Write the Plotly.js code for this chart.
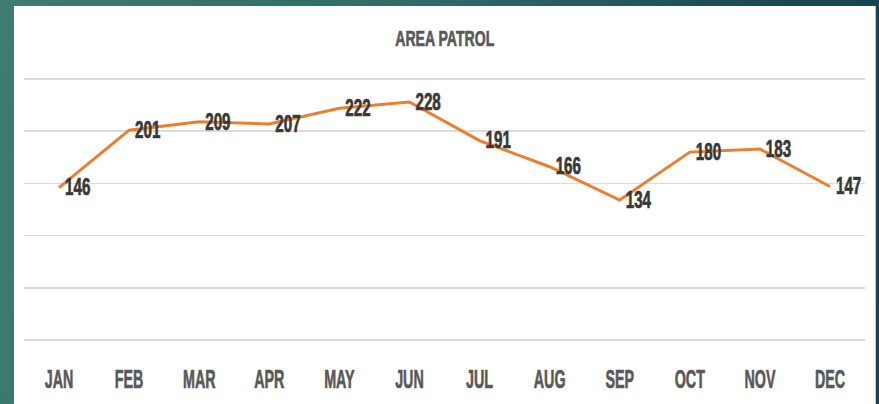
<!DOCTYPE html>
<html>
<head>
<meta charset="utf-8">
<script src="https://cdn.plot.ly/plotly-3.0.1.min.js"></script>
<style>
  html, body { margin:0; padding:0; width:879px; height:404px; overflow:hidden; }
  body { background: linear-gradient(100deg, #3e7c6f 0%, #2f6a68 45%, #1b4a56 80%, #15404f 100%); position:relative; }
  #panel { position:absolute; left:14px; top:6px; width:861px; height:398px; background:#ffffff; border-right:1px solid #c8c8c8; }
  #chart { position:absolute; left:0; top:0; width:879px; height:404px; }
</style>
</head>
<body>
<div id="panel"></div>
<div id="chart"></div>
<script>
const months = ["JAN","FEB","MAR","APR","MAY","JUN","JUL","AUG","SEP","OCT","NOV","DEC"];
const patrols = [146, 201, 209, 207, 222, 228, 191, 166, 134, 180, 183, 147];
const gridValues = [0, 50, 100, 150, 200, 250];
const chartTitle = "AREA PATROL";

const fam = "Liberation Sans, Arial, sans-serif";

const trace = {
  type: "scatter",
  mode: "lines+text",
  x: months,
  y: patrols,
  text: patrols.map(String),
  textposition: "middle right",
  textfont: { family: fam, size: 23, color: "#383838", weight: "bold" },
  line: { color: "#ED7D31", width: 3 },
  cliponaxis: false,
  hoverinfo: "skip"
};

const layout = {
  width: 879, height: 404,
  paper_bgcolor: "rgba(0,0,0,0)",
  plot_bgcolor: "rgba(0,0,0,0)",
  margin: { l: 24, r: 14, t: 77, b: 62 },
  showlegend: false,
  title: {
    text: chartTitle,
    font: { family: fam, size: 22, color: "#595959", weight: "bold" },
    x: 0.506, xanchor: "center",
    yref: "container", y: 1 - 38/404, yanchor: "middle"
  },
  xaxis: {
    type: "category",
    range: [-0.5, 11.5],
    showgrid: false, zeroline: false, showline: false,
    ticks: "",
    ticklabelstandoff: 19,
    tickfont: { family: fam, size: 26, color: "#595959", weight: "bold" }
  },
  yaxis: {
    range: [-2, 252],
    tickvals: gridValues,
    showticklabels: false,
    showgrid: true, gridcolor: "#dcdcdc", gridwidth: 1.6,
    zeroline: false, showline: false, ticks: ""
  }
};

// Condense text horizontally (the reference uses a very narrow heavy face)
function condense(el, sx, anchor, dx, dy, strokeColor) {
  const bb = el.getBBox();
  const cx = anchor === "left" ? bb.x : bb.x + bb.width / 2;
  const prev = el.getAttribute("transform") || "";
  el.setAttribute("transform",
    prev + ` translate(${cx + (dx || 0)},${dy || 0}) scale(${sx},1) translate(${-cx},0)`);
  if (strokeColor) {
    el.style.stroke = strokeColor;
    el.style.strokeWidth = "0.7px";
  }
}

Plotly.newPlot("chart", [trace], layout, { displayModeBar: false, staticPlot: true }).then(gd => {
  gd.querySelectorAll(".xtick text").forEach(t => condense(t, 0.55, "center", 0, 0, "#595959"));
  gd.querySelectorAll(".textpoint text").forEach(t => condense(t, 0.66, "left", 6, 2, "#383838"));
  gd.querySelectorAll(".gtitle").forEach(t => condense(t, 0.64, "center", 0, 0, "#595959"));
});
</script>
</body>
</html>
